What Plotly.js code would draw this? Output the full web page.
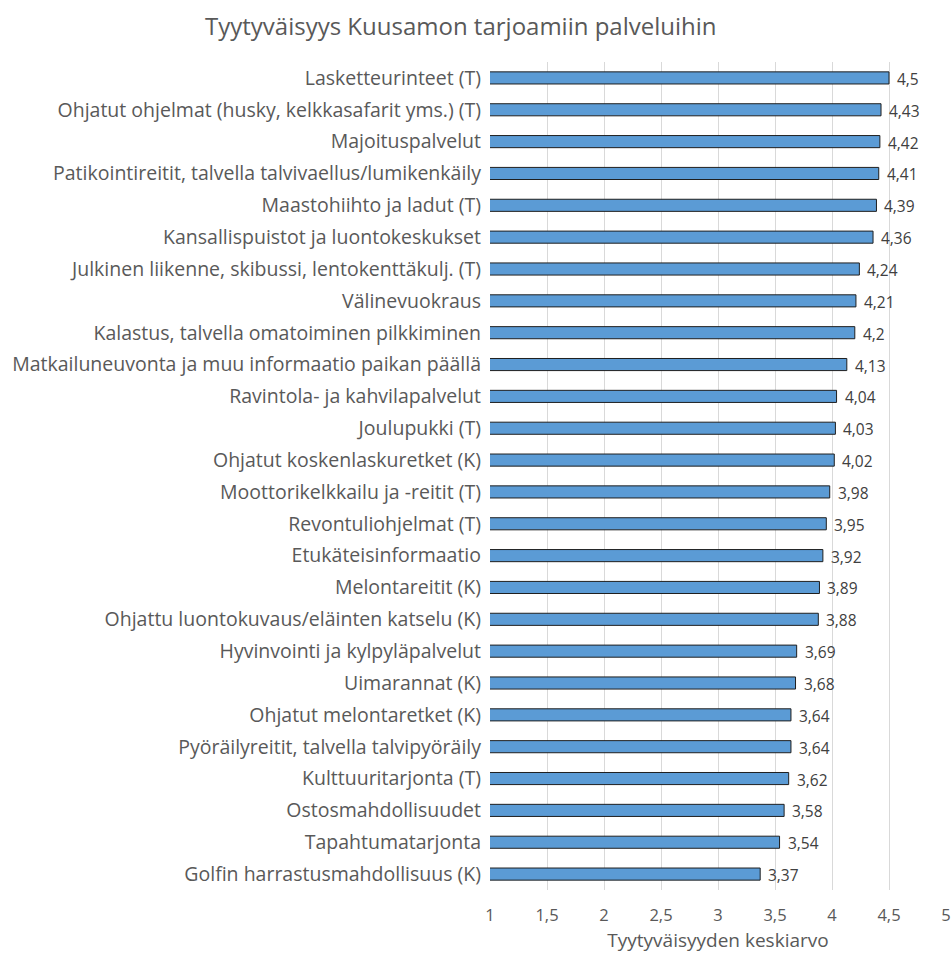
<!DOCTYPE html>
<html><head><meta charset="utf-8">
<script src="https://cdn.plot.ly/plotly-3.0.1.min.js"></script>
<style>body{margin:0;background:#fff}#c{width:952px;height:954px}</style>
</head><body><div id="c"></div>
<script>
const categories = [
"Lasketteurinteet (T)",
"Ohjatut ohjelmat (husky, kelkkasafarit yms.) (T)",
"Majoituspalvelut",
"Patikointireitit, talvella talvivaellus/lumikenkäily",
"Maastohiihto ja ladut (T)",
"Kansallispuistot ja luontokeskukset",
"Julkinen liikenne, skibussi, lentokenttäkulj. (T)",
"Välinevuokraus",
"Kalastus, talvella omatoiminen pilkkiminen",
"Matkailuneuvonta ja muu informaatio paikan päällä",
"Ravintola- ja kahvilapalvelut",
"Joulupukki (T)",
"Ohjatut koskenlaskuretket (K)",
"Moottorikelkkailu ja -reitit (T)",
"Revontuliohjelmat (T)",
"Etukäteisinformaatio",
"Melontareitit (K)",
"Ohjattu luontokuvaus/eläinten katselu (K)",
"Hyvinvointi ja kylpyläpalvelut",
"Uimarannat (K)",
"Ohjatut melontaretket (K)",
"Pyöräilyreitit, talvella talvipyöräily",
"Kulttuuritarjonta (T)",
"Ostosmahdollisuudet",
"Tapahtumatarjonta",
"Golfin harrastusmahdollisuus (K)"
];
const values = [4.5,4.43,4.42,4.41,4.39,4.36,4.24,4.21,4.2,4.13,4.04,4.03,4.02,3.98,3.95,3.92,3.89,3.88,3.69,3.68,3.64,3.64,3.62,3.58,3.54,3.37];
const tickVals = [1,1.5,2,2.5,3,3.5,4,4.5,5];
const tickText = ["1","1,5","2","2,5","3","3,5","4","4,5","5"];
const labels = values.map(v => String(v).replace('.', ','));

const font = "'Open Sans', sans-serif";
const annotations = values.map((v, i) => ({
  x: v, y: categories[i], xref: 'x', yref: 'y',
  text: labels[i], showarrow: false, xanchor: 'left', yanchor: 'middle',
  xshift: 6, yshift: -1,
  font: {family: font, size: 15.5, color: '#404040'}
}));

Plotly.newPlot('c', [{
  type: 'bar',
  orientation: 'h',
  y: categories,
  x: values,
  base: 0,
  width: 0.38,
  marker: {color: '#5B9BD5', line: {color: '#1f1f1f', width: 1}},
  hoverinfo: 'none'
}], {
  width: 952, height: 954,
  margin: {l: 490, r: 6, t: 62, b: 64},
  paper_bgcolor: '#fff', plot_bgcolor: '#fff',
  title: {text: 'Tyytyväisyys Kuusamon tarjoamiin palveluihin', font: {family: font, size: 24, color: '#595959'}, x: 0.484, xanchor: 'center', y: 0.972, yanchor: 'middle'},
  showlegend: false,
  annotations: annotations,
  xaxis: {
    range: [1, 5], tickvals: tickVals, ticktext: tickText,
    showgrid: true, gridcolor: '#d9d9d9', gridwidth: 1, zeroline: false,
    showline: false, ticks: '', ticklabelstandoff: 13,
    tickfont: {family: font, size: 16.5, color: '#595959'},
    title: {text: 'Tyytyväisyyden keskiarvo', font: {family: font, size: 19, color: '#595959'}, standoff: 9},
    fixedrange: true
  },
  yaxis: {
    autorange: 'reversed', type: 'category',
    tickfont: {family: font, size: 19.5, color: '#595959'},
    showgrid: false, showline: false, zeroline: false, ticks: '', ticklabelstandoff: 8,
    fixedrange: true
  }
}, {displayModeBar: false, staticPlot: true});
</script></body></html>
